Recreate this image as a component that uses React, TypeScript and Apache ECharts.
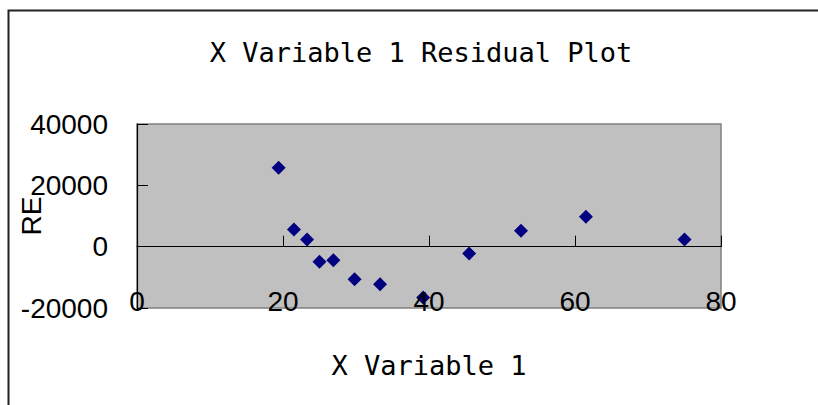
import React, { useEffect, useRef } from "react";
import * as echarts from "echarts";

const titleText = "X Variable 1 Residual Plot";
const xAxisName = "X Variable 1";
const yAxisName = "RE";
const xValues = [19.4, 21.5, 23.3, 25.0, 26.9, 29.8, 33.3, 39.2, 45.5, 52.6, 61.5, 75.0];
const residuals = [25750, 5600, 2350, -4950, -4400, -10600, -12250, -16600, -2200, 5150, 9750, 2350];
const xTicks = { min: 0, max: 80, interval: 20 };
const yTicks = { min: -20000, max: 40000, interval: 20000 };

export default function App() {
  const ref = useRef<HTMLDivElement>(null);
  useEffect(() => {
    if (!ref.current) return;
    const chart = echarts.init(ref.current, null, { renderer: "svg" });
    const points = xValues.map((x, i) => [x, residuals[i]]);
    const labelFont = "'Liberation Sans', Arial, sans-serif";
    const monoFont = "'DejaVu Sans Mono', monospace";
    chart.setOption({
      animation: false,
      backgroundColor: "#ffffff",
      title: {
        text: titleText,
        left: 416,
        top: 34,
        textAlign: "center",
        textStyle: { fontFamily: monoFont, fontSize: 27, fontWeight: "normal", color: "#000" },
      },
      graphic: [
        {
          type: "rect",
          shape: { x: 8.5, y: 10.5, width: 900, height: 600 },
          style: { fill: "none", stroke: "#222", lineWidth: 2 },
          silent: true,
        },
      ],
      grid: {
        left: 137,
        top: 124,
        right: 97,
        bottom: 97,
        containLabel: false,
        outerBoundsMode: "none",
        show: true,
        backgroundColor: "#C0C0C0",
        borderColor: "#808080",
        borderWidth: 1.5,
      },
      xAxis: {
        type: "value",
        min: xTicks.min,
        max: xTicks.max,
        interval: xTicks.interval,
        z: 3,
        name: xAxisName,
        nameLocation: "middle",
        nameGap: 44,
        nameMoveOverlap: false,
        nameTextStyle: { fontFamily: monoFont, fontSize: 27, color: "#000" },
        axisLine: { onZero: true, lineStyle: { color: "#000", width: 1.2 } },
        axisTick: { inside: true, length: 11, lineStyle: { color: "#000" } },
        axisLabel: {
          margin: -21,
          fontFamily: labelFont,
          fontSize: 28,
          color: "#000",
          formatter: (v: number) => String(v),
        },
        splitLine: { show: false },
      },
      yAxis: {
        type: "value",
        min: yTicks.min,
        max: yTicks.max,
        interval: yTicks.interval,
        name: yAxisName,
        nameLocation: "middle",
        nameRotate: 90,
        nameGap: 92,
        nameMoveOverlap: false,
        nameTextStyle: { fontFamily: labelFont, fontSize: 28, color: "#000" },
        axisLine: { show: true, onZero: false, lineStyle: { color: "#000", width: 1.2 } },
        axisTick: { show: true, inside: true, length: 11, lineStyle: { color: "#000" } },
        axisLabel: {
          margin: 29,
          fontFamily: labelFont,
          fontSize: 28,
          color: "#000",
          padding: [8, 0, 0, 0],
          formatter: (v: number) => String(v),
        },
        splitLine: { show: false },
      },
      series: [
        {
          type: "scatter",
          data: points,
          symbol: "diamond",
          symbolSize: 14,
          itemStyle: { color: "#000080", opacity: 1 },
        },
      ],
    });
    return () => chart.dispose();
  }, []);
  return (
    <div
      ref={ref}
      style={{ position: "absolute", left: 0, top: 0, width: 818, height: 405 }}
    />
  );
}
